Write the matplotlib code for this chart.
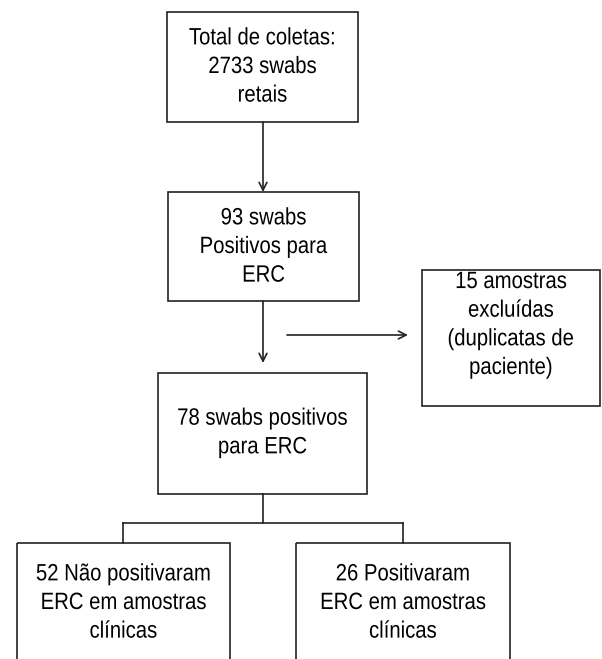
import matplotlib
matplotlib.use("Agg")
import matplotlib.pyplot as plt
from matplotlib.patches import Rectangle
from matplotlib.transforms import Affine2D
from matplotlib import patheffects

# texts of the flowchart boxes
box_labels = [
    "Total de coletas:\n2733 swabs\nretais",
    "93 swabs\nPositivos para\nERC",
    "15 amostras\nexcluídas\n(duplicatas de\npaciente)",
    "78 swabs positivos\npara ERC",
    "52 Não positivaram\nERC em amostras\nclínicas",
    "26 Positivaram\nERC em amostras\nclínicas",
]

# box layout in pixels: left, top, right, bottom, text centre y
box_layout = [
    (167, 12, 358, 122, 67),
    (168, 192, 359, 301, 247),
    (422, 270, 600, 406, 325),
    (158, 373, 367, 494, 433),
    (17, 543, 230, 700, 603),
    (296, 543, 510, 700, 603),
]


class Squeeze(patheffects.AbstractPathEffect):
    """narrow the glyphs horizontally around a fixed x (display coords),
    the reference uses a condensed Arial-like face"""

    def __init__(self, cx, sx=0.86):
        super().__init__()
        self.cx = cx
        self.sx = sx

    def draw_path(self, renderer, gc, tpath, affine, rgbFace=None):
        squeeze = Affine2D().translate(-self.cx, 0).scale(self.sx, 1).translate(self.cx, 0)
        renderer.draw_path(gc, tpath, affine + squeeze, rgbFace)


fig = plt.figure(figsize=(6.02, 6.59), dpi=100)
ax = fig.add_axes([0, 0, 1, 1])
ax.set_xlim(0, 602)
ax.set_ylim(659, 0)
ax.axis("off")

edge = "#222222"
lw = 1.2
for label, (l, t, r, b, cy) in zip(box_labels, box_layout):
    ax.add_patch(Rectangle((l, t), r - l, b - t, fill=False, edgecolor=edge, linewidth=lw))
    cx = (l + r) / 2
    px = ax.transData.transform((cx, cy))[0]
    ax.text(cx, cy, label, ha="center", va="center", fontsize=17,
            family="Liberation Sans", linespacing=1.39, color="black",
            path_effects=[Squeeze(px)])

arrow = dict(arrowstyle="->", color=edge, linewidth=lw, mutation_scale=14,
             shrinkA=0, shrinkB=0)
# box 1 -> box 2
ax.annotate("", xy=(263, 192), xytext=(263, 122), arrowprops=arrow)
# box 2 -> box 4
ax.annotate("", xy=(263, 363), xytext=(263, 301), arrowprops=arrow)
# exclusion arrow
ax.annotate("", xy=(408, 335), xytext=(287, 335), arrowprops=arrow)

# split connector
ax.plot([263, 263], [494, 523], color=edge, linewidth=lw)
ax.plot([123, 403], [523, 523], color=edge, linewidth=lw)
ax.plot([123, 123], [523, 543], color=edge, linewidth=lw)
ax.plot([403, 403], [523, 543], color=edge, linewidth=lw)

fig.savefig("out.png", dpi=100, facecolor="white")
